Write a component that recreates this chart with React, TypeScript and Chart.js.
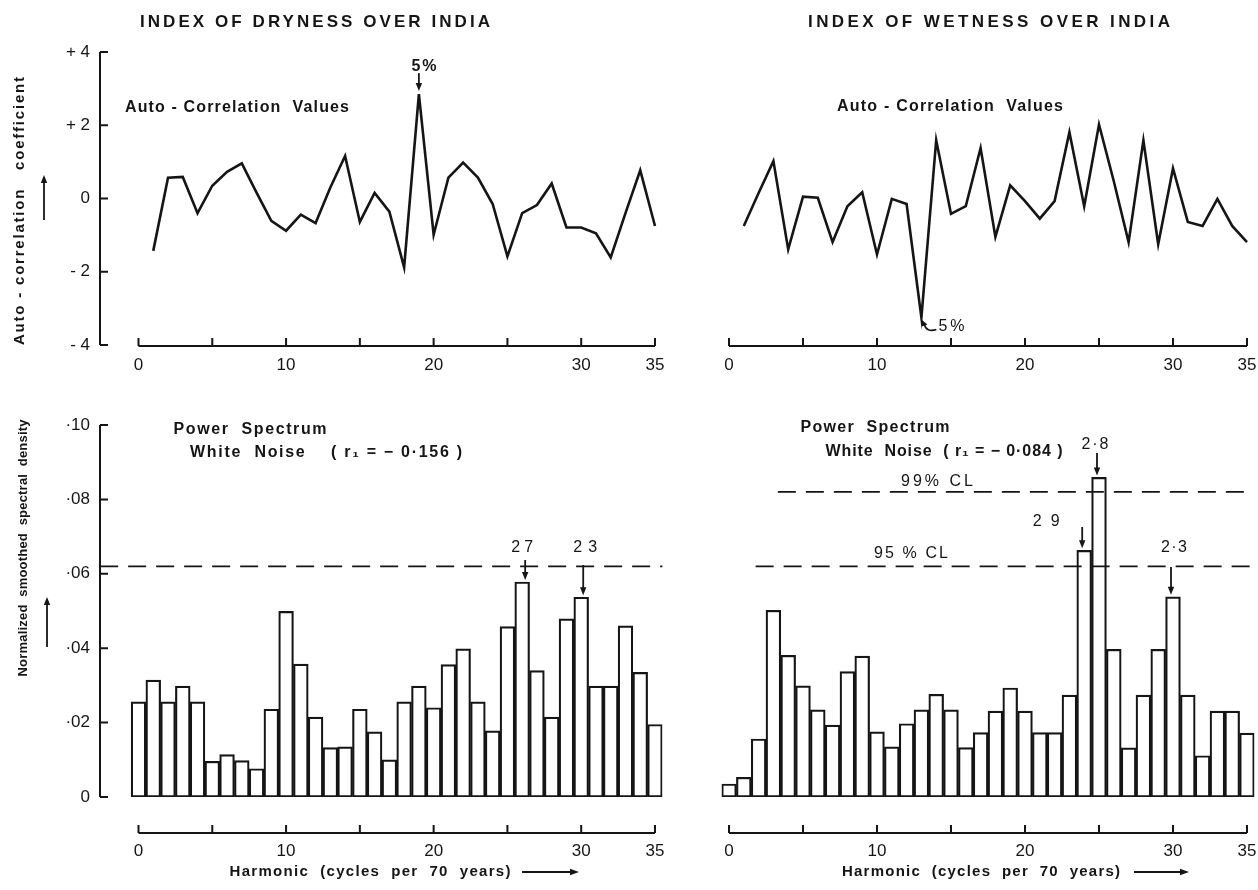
import React, { useEffect, useRef } from "react";
import { Chart, registerables } from "chart.js";

Chart.register(...registerables);

// ---------------- data ----------------
const ACF_LAGS = [1, 2, 3, 4, 5, 6, 7, 8, 9, 10, 11, 12, 13, 14, 15, 16, 17, 18, 19, 20, 21, 22, 23, 24, 25, 26, 27, 28, 29, 30, 31, 32, 33, 34, 35];
const DRYNESS_ACF = [-1.43, 0.57, 0.59, -0.4, 0.35, 0.73, 0.96, 0.16, -0.61, -0.88, -0.44, -0.67, 0.3, 1.16, -0.64, 0.15, -0.36, -1.88, 2.85, -0.99, 0.57, 0.98, 0.57, -0.15, -1.58, -0.4, -0.18, 0.41, -0.79, -0.79, -0.95, -1.61, -0.4, 0.77, -0.75];
const WETNESS_ACF = [-0.75, 0.15, 1.02, -1.39, 0.05, 0.02, -1.19, -0.21, 0.17, -1.53, -0.01, -0.15, -3.25, 1.59, -0.42, -0.21, 1.38, -1.05, 0.36, -0.07, -0.55, -0.07, 1.81, -0.21, 2.02, 0.47, -1.19, 1.59, -1.25, 0.82, -0.64, -0.75, -0.01, -0.75, -1.19];

const HARMONICS = [0, 1, 2, 3, 4, 5, 6, 7, 8, 9, 10, 11, 12, 13, 14, 15, 16, 17, 18, 19, 20, 21, 22, 23, 24, 25, 26, 27, 28, 29, 30, 31, 32, 33, 34, 35];
const DRYNESS_SPECTRUM = [0.0256, 0.0314, 0.0256, 0.0298, 0.0256, 0.0096, 0.0114, 0.0098, 0.0076, 0.0236, 0.0499, 0.0357, 0.0215, 0.0133, 0.0135, 0.0236, 0.0175, 0.01, 0.0256, 0.0298, 0.024, 0.0356, 0.0398, 0.0256, 0.0178, 0.0458, 0.0578, 0.034, 0.0215, 0.0479, 0.0537, 0.0298, 0.0298, 0.046, 0.0335, 0.0195];
const WETNESS_SPECTRUM = [0.0035, 0.0053, 0.0156, 0.0502, 0.0381, 0.0299, 0.0234, 0.0193, 0.0337, 0.0379, 0.0175, 0.0135, 0.0197, 0.0234, 0.0276, 0.0234, 0.0133, 0.0173, 0.0231, 0.0293, 0.0231, 0.0173, 0.0173, 0.0274, 0.0663, 0.0859, 0.0397, 0.0132, 0.0274, 0.0397, 0.0538, 0.0274, 0.0111, 0.0231, 0.0231, 0.0172];

const X_TICK_LABELS = [0, 10, 20, 30, 35];
const X_TICK_MARKS = [0, 5, 10, 15, 20, 25, 30, 35];
const ACF_Y_TICKS = [-4, -2, 0, 2, 4];
const ACF_Y_LABELS = ["- 4", "- 2", "0", "+ 2", "+ 4"];
const SPEC_Y_TICKS = [0, 0.02, 0.04, 0.06, 0.08, 0.1];
const SPEC_Y_LABELS = ["0", "·02", "·04", "·06", "·08", "·10"];

const DRY_WHITE_NOISE = 0.062;
const WET_CL95 = 0.062;
const WET_CL99 = 0.082;
const DRY_LINE_SPAN = [-2.6, 35.5];
const WET_CL95_SPAN = [1.8, 35.4];
const WET_CL99_SPAN = [3.3, 35.4];

// ---------------- layout / style ----------------
const W = 1258;
const H = 890;
const CW = 1340; // canvas width (wider than page so label overflow never squeezes the plot)
const INK = "#151515";
const FONT = '"Liberation Sans", Arial, sans-serif';
const BOLD13 = `bold 13px ${FONT}`;
const BOLD15 = `bold 15px ${FONT}`;
const BOLD16 = `bold 16px ${FONT}`;
const BOLD17 = `bold 17px ${FONT}`;
const REG16 = `16px ${FONT}`;

const L_AXIS_X = 100;
const L_X0 = 138.5;
const L_UNIT = 14.757;
const R_X0 = 729;
const R_UNIT = 14.8;
const TOP_Y = { top: 52, bottom: 345 };
const BOT_Y = { top: 425, bottom: 797 };
const X_SCALE_H = 72;
const X_TITLE_Y = 872;

// ---------------- drawing helpers ----------------
function fitText(ctx: any, text: string, cx: number, cy: number, width: number, font: string, angle = 0) {
  ctx.save();
  ctx.font = font;
  ctx.fillStyle = INK;
  ctx.textBaseline = "middle";
  ctx.textAlign = "left";
  const hasLS = "letterSpacing" in ctx;
  if (hasLS) ctx.letterSpacing = "0px";
  const natural = ctx.measureText(text).width;
  ctx.translate(cx, cy);
  if (angle) ctx.rotate(angle);
  if (hasLS && text.length > 1) {
    const ls = (width - natural) / (text.length - 1);
    ctx.letterSpacing = ls + "px";
    ctx.fillText(text, -width / 2, 0);
  } else {
    ctx.scale(width / natural, 1);
    ctx.fillText(text, -natural / 2, 0);
  }
  ctx.restore();
}

function vArrow(ctx: any, x: number, y1: number, y2: number) {
  const dir = Math.sign(y2 - y1);
  ctx.save();
  ctx.strokeStyle = INK;
  ctx.fillStyle = INK;
  ctx.lineWidth = 1.8;
  ctx.beginPath();
  ctx.moveTo(x, y1);
  ctx.lineTo(x, y2 - dir * 6);
  ctx.stroke();
  ctx.beginPath();
  ctx.moveTo(x, y2);
  ctx.lineTo(x - 3.2, y2 - dir * 8);
  ctx.lineTo(x + 3.2, y2 - dir * 8);
  ctx.closePath();
  ctx.fill();
  ctx.restore();
}

function hArrow(ctx: any, x1: number, x2: number, y: number) {
  ctx.save();
  ctx.strokeStyle = INK;
  ctx.fillStyle = INK;
  ctx.lineWidth = 1.8;
  ctx.beginPath();
  ctx.moveTo(x1, y);
  ctx.lineTo(x2 - 6, y);
  ctx.stroke();
  ctx.beginPath();
  ctx.moveTo(x2, y);
  ctx.lineTo(x2 - 9, y - 3.2);
  ctx.lineTo(x2 - 9, y + 3.2);
  ctx.closePath();
  ctx.fill();
  ctx.restore();
}

function leftAxis(ctx: any, x: number, ys: any, ticks: number[]) {
  ctx.save();
  ctx.strokeStyle = INK;
  ctx.lineWidth = 2;
  const yTop = ys.getPixelForValue(ticks[ticks.length - 1]);
  const yBot = ys.getPixelForValue(ticks[0]);
  ctx.beginPath();
  ctx.moveTo(x, yTop);
  ctx.lineTo(x, yBot);
  for (const t of ticks) {
    const y = ys.getPixelForValue(t);
    ctx.moveTo(x, y);
    ctx.lineTo(x + 8, y);
  }
  ctx.stroke();
  ctx.restore();
}

function bottomAxis(ctx: any, xs: any, y: number, marks: number[]) {
  ctx.save();
  ctx.strokeStyle = INK;
  ctx.lineWidth = 2;
  ctx.beginPath();
  ctx.moveTo(xs.getPixelForValue(marks[0]), y);
  ctx.lineTo(xs.getPixelForValue(marks[marks.length - 1]), y);
  for (const m of marks) {
    const x = xs.getPixelForValue(m);
    ctx.moveTo(x, y);
    ctx.lineTo(x, y - 8);
  }
  ctx.stroke();
  ctx.restore();
}

// ---------------- config builders ----------------
function setTicks(values: number[]) {
  return (scale: any) => {
    scale.ticks = values.map((v) => ({ value: v }));
  };
}

function xScale(min: number, max: number, labelPad: number) {
  return {
    type: "linear",
    min,
    max,
    bounds: "data",
    offset: false,
    afterBuildTicks: setTicks(X_TICK_LABELS),
    afterFit: (s: any) => {
      s.height = X_SCALE_H;
    },
    grid: { display: false, drawTicks: false, offset: false },
    border: { display: false },
    ticks: {
      padding: labelPad,
      autoSkip: false,
      maxRotation: 0,
      color: INK,
      font: { family: FONT, size: 17 },
      callback: (v: any) => String(v),
    },
  };
}

function yScale(show: boolean, min: number, max: number, ticks: number[], labels: string[], axisX: number) {
  return {
    type: "linear",
    display: show,
    min,
    max,
    afterBuildTicks: setTicks(ticks),
    afterFit: (s: any) => {
      if (show) s.width = axisX;
    },
    grid: { display: false, drawTicks: false },
    border: { display: false },
    ticks: {
      padding: 10,
      color: INK,
      font: { family: FONT, size: 17 },
      callback: (_v: any, i: number) => labels[i],
    },
  };
}

type Panel = {
  type: string;
  left: number;
  right: number;
  top: number;
  bottom: number;
  xMin: number;
  xMax: number;
  showY: boolean;
  yMin: number;
  yMax: number;
  yTicks: number[];
  yLabels: string[];
  labelPad: number;
  datasets: any[];
  decor: (ctx: any, chart: any) => void;
};

function buildConfig(p: Panel) {
  return {
    type: p.type,
    data: { datasets: p.datasets },
    options: {
      responsive: false,
      animation: false,
      devicePixelRatio: 1,
      events: [],
      layout: {
        padding: {
          left: p.showY ? 0 : p.left,
          right: CW - p.right,
          top: p.top,
          bottom: H - p.bottom - X_SCALE_H,
        },
      },
      plugins: {
        legend: { display: false },
        tooltip: { enabled: false },
        title: { display: false },
      },
      scales: {
        x: xScale(p.xMin, p.xMax, p.labelPad),
        y: yScale(p.showY, p.yMin, p.yMax, p.yTicks, p.yLabels, p.left),
      },
    },
    plugins: [
      {
        id: "paperDecor",
        afterDraw: (chart: any) => p.decor(chart.ctx, chart),
      },
    ],
  };
}

function acfDataset(values: number[]) {
  return {
    type: "line",
    data: ACF_LAGS.map((x, i) => ({ x, y: values[i] })),
    borderColor: INK,
    borderWidth: 2.6,
    borderJoinStyle: "miter",
    pointRadius: 0,
    tension: 0,
    fill: false,
    clip: false,
  };
}

function barDataset(values: number[]) {
  return {
    type: "bar",
    data: HARMONICS.map((x, i) => ({ x, y: values[i] })),
    backgroundColor: "#ffffff",
    borderColor: INK,
    borderWidth: 2.2,
    borderSkipped: false,
    barPercentage: 1,
    categoryPercentage: 1,
    order: 2,
  };
}

function dashedLevel(level: number, span: number[]) {
  return {
    type: "line",
    data: [
      { x: span[0], y: level },
      { x: span[1], y: level },
    ],
    borderColor: INK,
    borderWidth: 1.7,
    borderDash: [18, 10],
    pointRadius: 0,
    fill: false,
    clip: false,
    order: 0,
  };
}

// ---------------- panels ----------------
const L_XMIN = (L_AXIS_X - L_X0) / L_UNIT;

const dryAcfPanel = (): Panel => ({
  type: "line",
  left: L_AXIS_X,
  right: L_X0 + 35 * L_UNIT,
  top: TOP_Y.top,
  bottom: TOP_Y.bottom,
  xMin: L_XMIN,
  xMax: 35,
  showY: true,
  yMin: -4,
  yMax: 4,
  yTicks: ACF_Y_TICKS,
  yLabels: ACF_Y_LABELS,
  labelPad: 10,
  datasets: [acfDataset(DRYNESS_ACF)],
  decor: (ctx, chart) => {
    const xs = chart.scales.x;
    const ys = chart.scales.y;
    const a = chart.chartArea;
    fitText(ctx, "INDEX OF DRYNESS OVER INDIA", 315, 22, 350, BOLD17);
    fitText(ctx, "Auto - correlation   coefficient", 20, 211, 268, BOLD15, -Math.PI / 2);
    vArrow(ctx, 44, 220, 175);
    leftAxis(ctx, a.left, ys, ACF_Y_TICKS);
    bottomAxis(ctx, xs, a.bottom + 1, X_TICK_MARKS);
    fitText(ctx, "Auto - Correlation  Values", 237, 108, 224, BOLD16);
    const i = ACF_LAGS.indexOf(19);
    const px = xs.getPixelForValue(19);
    const py = ys.getPixelForValue(DRYNESS_ACF[i]);
    fitText(ctx, "5%", px + 5, py - 28, 25, BOLD16);
    vArrow(ctx, px, py - 21, py - 3);
  },
});

const wetAcfPanel = (): Panel => ({
  type: "line",
  left: R_X0,
  right: R_X0 + 35 * R_UNIT,
  top: TOP_Y.top,
  bottom: TOP_Y.bottom,
  xMin: 0,
  xMax: 35,
  showY: false,
  yMin: -4,
  yMax: 4,
  yTicks: ACF_Y_TICKS,
  yLabels: ACF_Y_LABELS,
  labelPad: 10,
  datasets: [acfDataset(WETNESS_ACF)],
  decor: (ctx, chart) => {
    const xs = chart.scales.x;
    const ys = chart.scales.y;
    const a = chart.chartArea;
    fitText(ctx, "INDEX OF WETNESS OVER INDIA", 989, 22, 362, BOLD17);
    bottomAxis(ctx, xs, a.bottom + 1, X_TICK_MARKS);
    fitText(ctx, "Auto - Correlation  Values", 950, 107, 226, BOLD16);
    const i = ACF_LAGS.indexOf(13);
    const px = xs.getPixelForValue(13);
    const py = ys.getPixelForValue(WETNESS_ACF[i]);
    fitText(ctx, "5%", px + 30, py + 9, 26, REG16);
    ctx.save();
    ctx.strokeStyle = INK;
    ctx.fillStyle = INK;
    ctx.lineWidth = 1.6;
    ctx.beginPath();
    ctx.moveTo(px + 15, py + 12);
    ctx.quadraticCurveTo(px + 5, py + 15, px + 3, py + 7);
    ctx.stroke();
    ctx.beginPath();
    ctx.moveTo(px, py + 2);
    ctx.lineTo(px + 6, py + 7);
    ctx.lineTo(px + 0.5, py + 9);
    ctx.closePath();
    ctx.fill();
    ctx.restore();
  },
});

const drySpecPanel = (): Panel => ({
  type: "bar",
  left: L_AXIS_X,
  right: L_X0 + 35.5 * L_UNIT,
  top: BOT_Y.top,
  bottom: BOT_Y.bottom,
  xMin: L_XMIN,
  xMax: 35.5,
  showY: true,
  yMin: 0,
  yMax: 0.1,
  yTicks: SPEC_Y_TICKS,
  yLabels: SPEC_Y_LABELS,
  labelPad: 44,
  datasets: [barDataset(DRYNESS_SPECTRUM), dashedLevel(DRY_WHITE_NOISE, DRY_LINE_SPAN)],
  decor: (ctx, chart) => {
    const xs = chart.scales.x;
    const ys = chart.scales.y;
    const a = chart.chartArea;
    leftAxis(ctx, a.left, ys, SPEC_Y_TICKS);
    bottomAxis(ctx, xs, a.bottom + 36, X_TICK_MARKS);
    fitText(ctx, "Normalized  smoothed  spectral  density", 23, 548, 257, BOLD13, -Math.PI / 2);
    vArrow(ctx, 47, 647, 597);
    fitText(ctx, "Power  Spectrum", 250, 430, 153, BOLD16);
    fitText(ctx, "White  Noise    ( r\u2081 = \u2212 0\u00b7156 )", 326, 453, 272, BOLD16);
    fitText(ctx, "Harmonic  (cycles  per  70  years)", 370, X_TITLE_Y, 281, BOLD15);
    hArrow(ctx, 522, 579, X_TITLE_Y);
    const p26 = xs.getPixelForValue(26);
    const t26 = ys.getPixelForValue(DRYNESS_SPECTRUM[HARMONICS.indexOf(26)]);
    fitText(ctx, "2 7", p26, 548, 22, REG16);
    vArrow(ctx, p26 + 3, 560, t26 - 2);
    const p30 = xs.getPixelForValue(30);
    const t30 = ys.getPixelForValue(DRYNESS_SPECTRUM[HARMONICS.indexOf(30)]);
    fitText(ctx, "2 3", p30 + 4, 548, 24, REG16);
    vArrow(ctx, p30 + 2, 565, t30 - 2);
  },
});

const wetSpecPanel = (): Panel => ({
  type: "bar",
  left: R_X0 - 0.5 * R_UNIT,
  right: R_X0 + 35.5 * R_UNIT,
  top: BOT_Y.top,
  bottom: BOT_Y.bottom,
  xMin: -0.5,
  xMax: 35.5,
  showY: false,
  yMin: 0,
  yMax: 0.1,
  yTicks: SPEC_Y_TICKS,
  yLabels: SPEC_Y_LABELS,
  labelPad: 44,
  datasets: [
    barDataset(WETNESS_SPECTRUM),
    dashedLevel(WET_CL95, WET_CL95_SPAN),
    dashedLevel(WET_CL99, WET_CL99_SPAN),
  ],
  decor: (ctx, chart) => {
    const xs = chart.scales.x;
    const ys = chart.scales.y;
    const a = chart.chartArea;
    bottomAxis(ctx, xs, a.bottom + 36, X_TICK_MARKS);
    fitText(ctx, "Harmonic  (cycles  per  70  years)", 981, X_TITLE_Y, 278, BOLD15);
    hArrow(ctx, 1134, 1189, X_TITLE_Y);
    fitText(ctx, "Power  Spectrum", 875, 428, 149, BOLD16);
    fitText(ctx, "White  Noise  ( r\u2081 = \u2212 0\u00b7084 )", 944, 452, 237, BOLD16);
    const y99 = ys.getPixelForValue(WET_CL99);
    const y95 = ys.getPixelForValue(WET_CL95);
    fitText(ctx, "99% CL", 937, y99 - 10, 72, REG16);
    fitText(ctx, "95 % CL", 911, y95 - 13, 74, REG16);
    const p25 = xs.getPixelForValue(25);
    const t25 = ys.getPixelForValue(WETNESS_SPECTRUM[HARMONICS.indexOf(25)]);
    fitText(ctx, "2\u00b78", p25 - 4, 445, 27, REG16);
    vArrow(ctx, p25 - 2, 453, t25 - 2);
    const p24 = xs.getPixelForValue(24);
    const t24 = ys.getPixelForValue(WETNESS_SPECTRUM[HARMONICS.indexOf(24)]);
    fitText(ctx, "2 9", p24 - 38, 522, 27, REG16);
    vArrow(ctx, p24 - 2, 527, t24 - 2);
    const p30 = xs.getPixelForValue(30);
    const t30 = ys.getPixelForValue(WETNESS_SPECTRUM[HARMONICS.indexOf(30)]);
    fitText(ctx, "2\u00b73", p30 + 1, 548, 26, REG16);
    vArrow(ctx, p30 - 2, 567, t30 - 2);
  },
});

const PANELS = [dryAcfPanel, wetAcfPanel, drySpecPanel, wetSpecPanel];

export default function App() {
  const r0 = useRef<HTMLCanvasElement | null>(null);
  const r1 = useRef<HTMLCanvasElement | null>(null);
  const r2 = useRef<HTMLCanvasElement | null>(null);
  const r3 = useRef<HTMLCanvasElement | null>(null);
  const refs = [r0, r1, r2, r3];

  useEffect(() => {
    const charts = PANELS.map((mk, i) => new Chart(refs[i].current as any, buildConfig(mk()) as any));
    return () => charts.forEach((c) => c.destroy());
  }, []);

  return (
    <div
      style={{
        position: "absolute",
        left: 0,
        top: 0,
        width: W,
        height: H,
        overflow: "hidden",
        background: "#ffffff",
      }}
    >
      {refs.map((r, i) => (
        <canvas
          key={i}
          ref={r}
          width={CW}
          height={H}
          style={{ position: "absolute", left: 0, top: 0, width: CW, height: H }}
        />
      ))}
    </div>
  );
}
